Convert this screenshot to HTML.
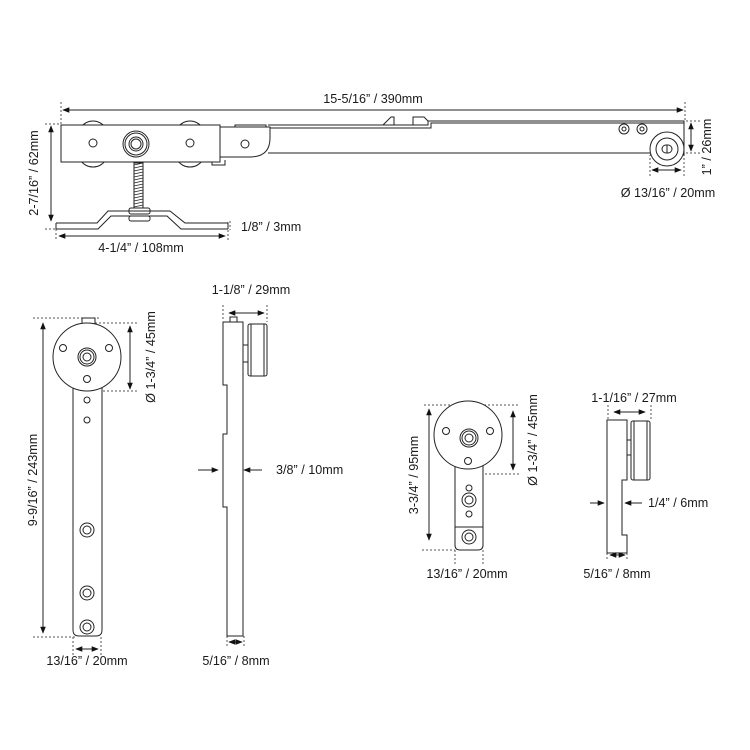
<!DOCTYPE html>
<html><head><style>
html,body{margin:0;padding:0;background:#fff;}
svg{display:block;}
text{font-family:"Liberation Sans",Arial,sans-serif;font-size:12.6px;fill:#1a1a1a;}
</style></head><body>
<svg width="750" height="750" viewBox="0 0 750 750" xmlns="http://www.w3.org/2000/svg">
<defs>
<marker id="a" viewBox="0 0 10 10" refX="9" refY="5" markerWidth="7" markerHeight="7" orient="auto-start-reverse"><path d="M0,1 L10,5 L0,9 z" fill="#111"/></marker>
</defs>
<g stroke="#222" stroke-width="1" fill="none">
<!-- TOP ASSEMBLY -->
<g stroke-dasharray="2,2" stroke="#555">
<line x1="61" y1="102" x2="61" y2="125"/><line x1="685" y1="102" x2="685" y2="121"/>
<line x1="45" y1="124" x2="61" y2="124"/><line x1="45" y1="229" x2="58" y2="229"/>
<line x1="56" y1="229" x2="56" y2="241"/><line x1="228" y1="222" x2="228" y2="241"/>
<line x1="230" y1="221" x2="230" y2="230"/>
<line x1="686" y1="121" x2="700" y2="121"/><line x1="686" y1="153" x2="700" y2="153"/>
<line x1="650" y1="150" x2="650" y2="176"/><line x1="684" y1="150" x2="684" y2="176"/>
</g>
<line x1="63" y1="110" x2="683" y2="110" marker-start="url(#a)" marker-end="url(#a)"/>
<line x1="51" y1="126" x2="51" y2="221" marker-start="url(#a)" marker-end="url(#a)"/>
<line x1="59" y1="236" x2="225" y2="236" marker-start="url(#a)" marker-end="url(#a)"/>
<line x1="691" y1="123" x2="691" y2="151" marker-start="url(#a)" marker-end="url(#a)"/>
<line x1="652" y1="170" x2="681" y2="170" marker-start="url(#a)" marker-end="url(#a)"/>
<!-- rail -->
<path d="M268,125 L428,125 L428,121 L684,121 L684,155 L650,155 M268,153 L650,153" fill="#fff"/>
<path d="M270,128 L431,128 L431,123 L684,123"/>
<path d="M383,125 L391,117 L394,117 L394,125 M413,125 L413,117 L424,117 L428,121"/>
<!-- bracket -->
<path d="M220,127 L270,127 L270,138 Q270,157 250,157 L220,157 Z" fill="#fff"/>
<path d="M235,127 L235,125 L266,125 L266,127"/>
<path d="M212,160 L212,165 L225,165 L225,160"/>
<circle cx="245" cy="144" r="4"/>
<!-- wheels -->
<ellipse cx="93" cy="144" rx="18" ry="23" fill="#fff"/>
<ellipse cx="190" cy="144" rx="18" ry="23" fill="#fff"/>
<rect x="61" y="125" width="159" height="37" fill="#fff"/>
<circle cx="93" cy="143" r="4"/><circle cx="190" cy="143" r="4"/>
<circle cx="136" cy="144" r="13"/><circle cx="136" cy="144" r="11"/><circle cx="136" cy="144" r="7"/><circle cx="136" cy="144" r="5"/>
<!-- bolt -->
<rect x="134" y="163" width="9" height="45" fill="#fff"/>
<path d="M134,165 L143,163 M134,168 L143,166 M134,171 L143,169 M134,174 L143,172 M134,177 L143,175 M134,180 L143,178 M134,183 L143,181 M134,186 L143,184 M134,189 L143,187 M134,192 L143,190 M134,195 L143,193 M134,198 L143,196 M134,201 L143,199 M134,204 L143,202 M134,207 L143,205" stroke-width="0.8"/>
<rect x="129" y="208" width="21" height="6" rx="2" fill="#fff"/>
<rect x="129" y="216" width="21" height="5" rx="2" fill="#fff"/>
<!-- base -->
<path d="M56,223 L97,223 L108,211 L170,211 L185,223 L228,223 M56,229 L98,229 L111,216 L167,216 L181,229 L228,229 M56,223 L56,229 M228,223 L228,229"/>
<!-- right end -->
<circle cx="624" cy="129" r="5"/><circle cx="624" cy="129" r="2"/>
<circle cx="642" cy="129" r="5"/><circle cx="642" cy="129" r="2"/>
<circle cx="667" cy="149" r="17" fill="#fff"/><circle cx="667" cy="149" r="11"/>
<rect x="662" y="145" width="10" height="8" rx="4"/><line x1="667" y1="145" x2="667" y2="153"/>

<!-- LEFT FRONT VIEW -->
<g stroke-dasharray="2,2" stroke="#555">
<line x1="33" y1="318" x2="100" y2="318"/><line x1="33" y1="637" x2="75" y2="637"/>
<line x1="95" y1="323" x2="138" y2="323"/><line x1="95" y1="391" x2="138" y2="391"/>
<line x1="73" y1="637" x2="73" y2="656"/><line x1="101" y1="637" x2="101" y2="656"/>
<line x1="223" y1="305" x2="223" y2="320"/><line x1="267" y1="305" x2="267" y2="322"/>
<line x1="227" y1="636" x2="227" y2="647"/><line x1="244" y1="636" x2="244" y2="647"/>
</g>
<line x1="43" y1="323" x2="43" y2="633" marker-start="url(#a)" marker-end="url(#a)"/>
<line x1="130" y1="326" x2="130" y2="389" marker-start="url(#a)" marker-end="url(#a)"/>
<line x1="76" y1="649" x2="98" y2="649" marker-start="url(#a)" marker-end="url(#a)"/>
<rect x="82" y="318" width="13" height="6" fill="#fff"/>
<path d="M73,385 L73,630 Q73,636 79,636 L96,636 Q102,636 102,630 L102,385" fill="#fff"/>
<circle cx="87" cy="357" r="34" fill="#fff"/>
<circle cx="63" cy="348" r="3.5"/><circle cx="109" cy="348" r="3.5"/><circle cx="87" cy="379" r="3.5"/>
<circle cx="87" cy="357" r="9"/><circle cx="87" cy="357" r="7"/><circle cx="87" cy="357" r="4"/>
<circle cx="87" cy="400" r="3"/><circle cx="87" cy="420" r="3"/>
<circle cx="87" cy="530" r="7"/><circle cx="87" cy="530" r="4"/>
<circle cx="87" cy="593" r="7"/><circle cx="87" cy="593" r="4"/>
<circle cx="87" cy="627" r="7"/><circle cx="87" cy="627" r="4"/>

<!-- LEFT SIDE VIEW -->
<line x1="229" y1="313" x2="264" y2="313" marker-start="url(#a)" marker-end="url(#a)"/>
<rect x="230" y="317" width="7" height="5" fill="#fff"/>
<path d="M223,322 L243,322 L243,636 L227,636 L227,507 L223,507 L223,434 L227,434 L227,385 L223,385 Z" fill="#fff"/>
<rect x="248" y="324" width="19" height="52" rx="2" fill="#fff"/>
<line x1="251" y1="324" x2="251" y2="376"/><line x1="264" y1="324" x2="264" y2="376"/>
<rect x="243" y="345" width="5" height="17" fill="#fff"/>
<line x1="198" y1="470" x2="218" y2="470" marker-end="url(#a)"/>
<line x1="262" y1="470" x2="244" y2="470" marker-end="url(#a)"/>
<line x1="229" y1="642" x2="242" y2="642" marker-start="url(#a)" marker-end="url(#a)"/>

<!-- MID FRONT VIEW -->
<g stroke-dasharray="2,2" stroke="#555">
<line x1="424" y1="405" x2="520" y2="405"/><line x1="422" y1="550" x2="455" y2="550"/>
<line x1="485" y1="474" x2="520" y2="474"/>
<line x1="455" y1="550" x2="455" y2="566"/><line x1="483" y1="550" x2="483" y2="566"/>
<line x1="608" y1="405" x2="608" y2="420"/><line x1="651" y1="405" x2="651" y2="420"/>
<line x1="607" y1="553" x2="607" y2="560"/><line x1="627" y1="553" x2="627" y2="560"/>
</g>
<line x1="429" y1="409" x2="429" y2="540" marker-start="url(#a)" marker-end="url(#a)"/>
<line x1="513" y1="411" x2="513" y2="470" marker-start="url(#a)" marker-end="url(#a)"/>
<path d="M455,465 L455,545 Q455,550 460,550 L478,550 Q483,550 483,545 L483,465 M455,527 L483,527" fill="#fff"/>
<circle cx="468" cy="435" r="34" fill="#fff"/>
<circle cx="446" cy="431" r="3.5"/><circle cx="490" cy="431" r="3.5"/><circle cx="468" cy="461" r="3.5"/>
<circle cx="469" cy="438" r="9"/><circle cx="469" cy="438" r="7"/><circle cx="469" cy="438" r="4"/>
<circle cx="469" cy="488" r="3"/><circle cx="469" cy="500" r="7"/><circle cx="469" cy="500" r="4"/>
<circle cx="469" cy="514" r="3"/><circle cx="469" cy="537" r="7"/><circle cx="469" cy="537" r="4"/>

<!-- MID SIDE VIEW -->
<line x1="614" y1="412" x2="645" y2="412" marker-start="url(#a)" marker-end="url(#a)"/>
<path d="M607,420 L627,420 L627,480 L622,480 L622,535 L627,535 L627,553 L607,553 Z" fill="#fff"/>
<rect x="631" y="421" width="19" height="59" rx="2" fill="#fff"/>
<line x1="634" y1="421" x2="634" y2="480"/><line x1="647" y1="421" x2="647" y2="480"/>
<rect x="627" y="440" width="4" height="15" fill="#fff"/>
<line x1="590" y1="503" x2="604" y2="503" marker-end="url(#a)"/>
<line x1="642" y1="503" x2="625" y2="503" marker-end="url(#a)"/>
<line x1="610" y1="555" x2="625" y2="555" marker-start="url(#a)" marker-end="url(#a)"/>
</g>

<!-- TEXT -->
<text x="373" y="103" text-anchor="middle">15-5/16” / 390mm</text>
<text transform="translate(38,173) rotate(-90)" text-anchor="middle">2-7/16” / 62mm</text>
<text x="241" y="231">1/8” / 3mm</text>
<text x="141" y="252" text-anchor="middle">4-1/4” / 108mm</text>
<text transform="translate(711,147) rotate(-90)" text-anchor="middle">1” / 26mm</text>
<text x="668" y="197" text-anchor="middle">Ø 13/16” / 20mm</text>

<text transform="translate(37,480) rotate(-90)" text-anchor="middle">9-9/16” / 243mm</text>
<text transform="translate(155,357) rotate(-90)" text-anchor="middle">Ø 1-3/4” / 45mm</text>
<text x="87" y="665" text-anchor="middle">13/16” / 20mm</text>
<text x="251" y="294" text-anchor="middle">1-1/8” / 29mm</text>
<text x="276" y="474">3/8” / 10mm</text>
<text x="236" y="665" text-anchor="middle">5/16” / 8mm</text>

<text transform="translate(418,475) rotate(-90)" text-anchor="middle">3-3/4” / 95mm</text>
<text transform="translate(537,440) rotate(-90)" text-anchor="middle">Ø 1-3/4” / 45mm</text>
<text x="467" y="578" text-anchor="middle">13/16” / 20mm</text>
<text x="634" y="402" text-anchor="middle">1-1/16” / 27mm</text>
<text x="648" y="507">1/4” / 6mm</text>
<text x="617" y="578" text-anchor="middle">5/16” / 8mm</text>
</svg>
</body></html>
